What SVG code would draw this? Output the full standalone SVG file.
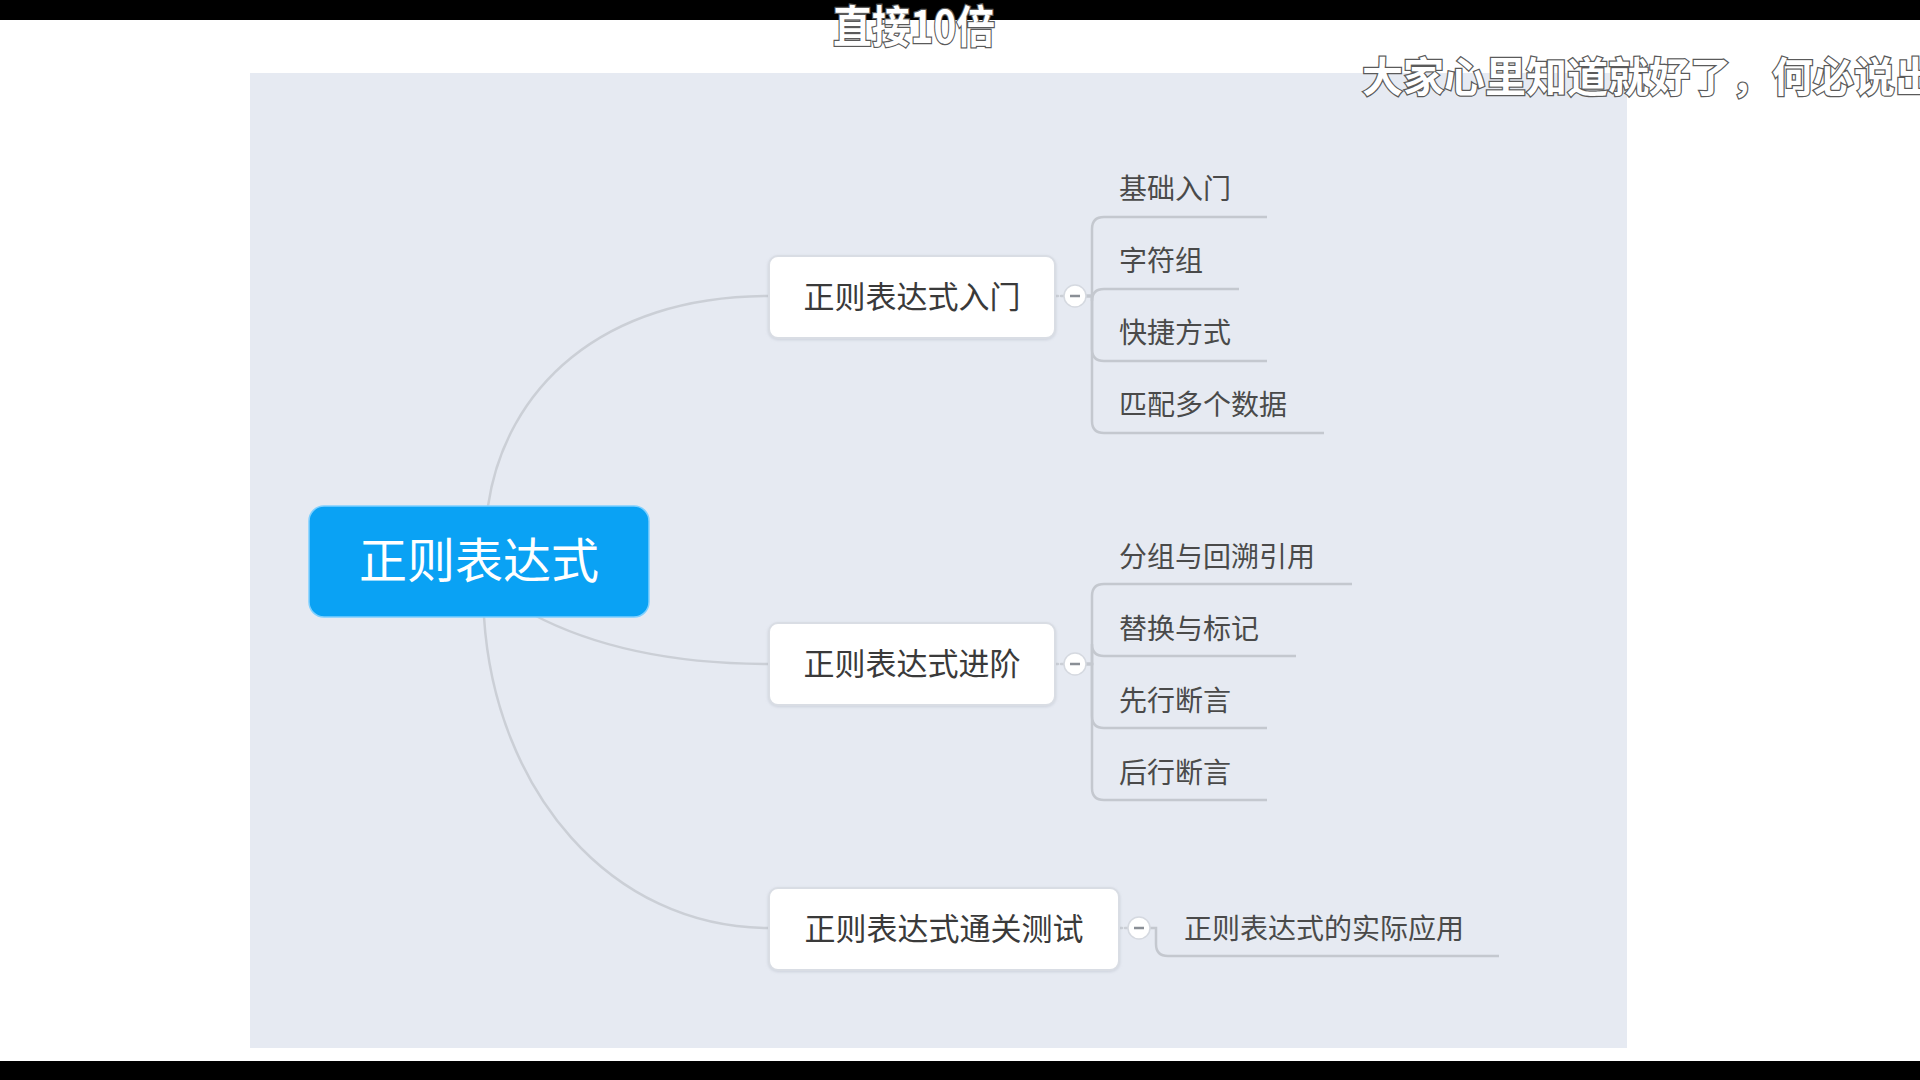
<svg xmlns="http://www.w3.org/2000/svg" width="1920" height="1080" viewBox="0 0 1920 1080">
<defs>
<style>
.panel{fill:#e6eaf2}
.conn{fill:none;stroke:#cbcfd6;stroke-width:2.5;stroke-linecap:round}
.branch{fill:none;stroke:#c4c8cf;stroke-width:2.5}
.node rect{fill:#ffffff;stroke:#d9dde4;stroke-width:2}
.ntext{font-family:"Noto Sans CJK SC","Noto Sans",sans-serif;font-size:31px;fill:#3a3a3a}
.ctext{font-family:"Noto Sans CJK SC","Noto Sans",sans-serif;font-size:28px;fill:#4a4a4a}
.toggle circle{fill:#ffffff;stroke:#d5d9e0;stroke-width:1.5}
.toggle line{stroke:#8a8f96;stroke-width:2.5}
.cap{font-family:"Noto Sans CJK SC","Noto Sans",sans-serif;font-weight:bold;fill:#ffffff;stroke:#5a5a5a;stroke-width:2.5;paint-order:stroke}
</style>
<filter id="sh" x="-10%" y="-10%" width="120%" height="130%">
<feDropShadow dx="0" dy="1" stdDeviation="1.5" flood-color="#9aa3b0" flood-opacity="0.35"/>
</filter>
</defs>
<rect x="0" y="0" width="1920" height="1080" fill="#ffffff"/>
<rect class="panel" x="250" y="73" width="1377" height="975"/>
<rect x="0" y="0" width="1920" height="20" fill="#000000"/>
<rect x="0" y="1061" width="1920" height="19" fill="#000000"/>

<g id="connectors">
<path class="conn" d="M 488 506 C 505 390 600 296 769 296"/>
<path class="conn" d="M 532 614 C 600 650 680 664 769 664"/>
<path class="conn" d="M 484 617 C 495 790 610 928 769 928"/>
<line class="conn" x1="1055" y1="296" x2="1064" y2="296" stroke-dasharray="3 3"/>
<line class="conn" x1="1055" y1="664" x2="1064" y2="664" stroke-dasharray="3 3"/>
<line class="conn" x1="1119" y1="928" x2="1128" y2="928" stroke-dasharray="3 3"/>
<path class="branch" d="M 1086 296 H 1092 V 229 Q 1092 217 1104 217 H 1267"/>
<path class="branch" d="M 1086 296 H 1092 V 301 Q 1092 289 1104 289 H 1239"/>
<path class="branch" d="M 1086 296 H 1092 V 349 Q 1092 361 1104 361 H 1267"/>
<path class="branch" d="M 1086 296 H 1092 V 421 Q 1092 433 1104 433 H 1324"/>
<path class="branch" d="M 1086 664 H 1092 V 596 Q 1092 584 1104 584 H 1352"/>
<path class="branch" d="M 1086 664 H 1092 V 644 Q 1092 656 1104 656 H 1296"/>
<path class="branch" d="M 1086 664 H 1092 V 716 Q 1092 728 1104 728 H 1267"/>
<path class="branch" d="M 1086 664 H 1092 V 788 Q 1092 800 1104 800 H 1267"/>
<path class="branch" d="M 1150 928 H 1156 V 944 Q 1156 956 1168 956 H 1499"/>
</g>

<g id="root">
<rect x="309" y="506" width="340" height="111" rx="15" fill="#0aa2f4" stroke="#7fd0ff" stroke-width="1.5"/>
<text x="479" y="578" text-anchor="middle" font-family="'Noto Sans CJK SC','Noto Sans',sans-serif" font-size="48" fill="#ffffff">正则表达式</text>
</g>

<g id="n1" class="node">
<rect x="769" y="256" width="286" height="82" rx="9" filter="url(#sh)"/>
<text class="ntext" x="912" y="308" text-anchor="middle">正则表达式入门</text>
</g>
<g id="n2" class="node">
<rect x="769" y="623" width="286" height="82" rx="9" filter="url(#sh)"/>
<text class="ntext" x="912" y="675" text-anchor="middle">正则表达式进阶</text>
</g>
<g id="n3" class="node">
<rect x="769" y="888" width="350" height="82" rx="9" filter="url(#sh)"/>
<text class="ntext" x="944" y="940" text-anchor="middle">正则表达式通关测试</text>
</g>

<g id="t1" class="toggle"><circle cx="1075" cy="296" r="11"/><line x1="1070" y1="296" x2="1080" y2="296"/></g>
<g id="t2" class="toggle"><circle cx="1075" cy="664" r="11"/><line x1="1070" y1="664" x2="1080" y2="664"/></g>
<g id="t3" class="toggle"><circle cx="1139" cy="928" r="11"/><line x1="1134" y1="928" x2="1144" y2="928"/></g>

<g id="c1"><text class="ctext" x="1119" y="199">基础入门</text></g>
<g id="c2"><text class="ctext" x="1119" y="271">字符组</text></g>
<g id="c3"><text class="ctext" x="1119" y="343">快捷方式</text></g>
<g id="c4"><text class="ctext" x="1119" y="415">匹配多个数据</text></g>
<g id="c5"><text class="ctext" x="1119" y="567">分组与回溯引用</text></g>
<g id="c6"><text class="ctext" x="1119" y="639">替换与标记</text></g>
<g id="c7"><text class="ctext" x="1119" y="711">先行断言</text></g>
<g id="c8"><text class="ctext" x="1119" y="783">后行断言</text></g>
<g id="c9"><text class="ctext" x="1184" y="939">正则表达式的实际应用</text></g>

<text class="cap" x="833" y="43" font-size="44" textLength="162" lengthAdjust="spacingAndGlyphs">直接10倍</text>
<text class="cap" x="1362" y="92" font-size="41">大家心里知道就好了，何必说出</text>
</svg>
